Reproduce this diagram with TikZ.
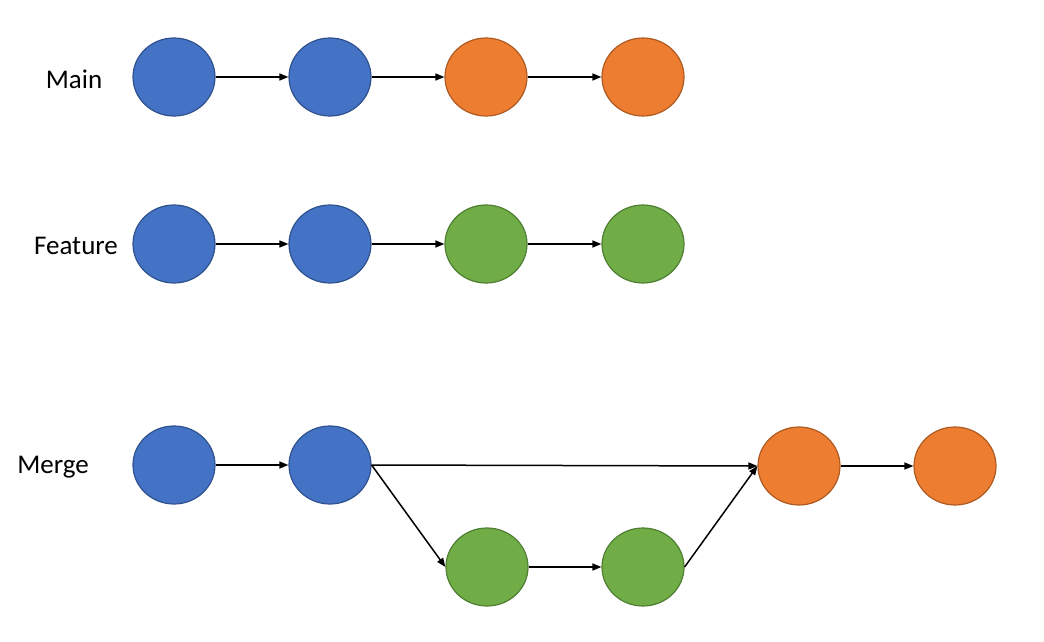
\documentclass[tikz,border=0pt]{standalone}
\usepackage{fontspec}
\setmainfont{Carlito}
\usetikzlibrary{arrows.meta,shapes.geometric}
\definecolor{cblue}{HTML}{4472C4}
\definecolor{cblueb}{HTML}{2F528F}
\definecolor{corange}{HTML}{ED7D31}
\definecolor{coranb}{HTML}{AE5A21}
\definecolor{cgreen}{HTML}{70AD47}
\definecolor{cgreenb}{HTML}{507E32}
\tikzset{
  commit/.style={ellipse, minimum width=82pt, minimum height=78pt, inner sep=0pt, line width=1.2pt},
  bluec/.style={commit, fill=cblue, draw=cblueb},
  orangec/.style={commit, fill=corange, draw=coranb},
  greenc/.style={commit, fill=cgreen, draw=cgreenb},
  conn/.style={line width=1.5pt, -{Triangle[length=9pt,width=7pt]}},
  lbl/.style={font=\fontsize{27}{32}\selectfont, inner sep=0pt}
}
\begin{document}
\begin{tikzpicture}[x=1pt,y=-1pt]
\useasboundingbox (0,0) rectangle (1044,642);
% Main
\node[lbl] (lmain) at (74,79) {Main};
\node[bluec] (m1) at (174,77) {};
\node[bluec] (m2) at (330,77) {};
\node[orangec] (m3) at (486,77) {};
\node[orangec] (m4) at (643,77) {};
\draw[conn] (m1) -- (m2);
\draw[conn] (m2) -- (m3);
\draw[conn] (m3) -- (m4);
% Feature
\node[lbl] (lfeat) at (76,246) {Feature};
\node[bluec] (f1) at (174,244) {};
\node[bluec] (f2) at (330,244) {};
\node[greenc] (f3) at (486,244) {};
\node[greenc] (f4) at (643,244) {};
\draw[conn] (f1) -- (f2);
\draw[conn] (f2) -- (f3);
\draw[conn] (f3) -- (f4);
% Merge
\node[lbl] (lmerge) at (53,467) {Merge};
\node[bluec] (g1) at (174,465) {};
\node[bluec] (g2) at (330,465) {};
\node[greenc] (g3) at (487,567) {};
\node[greenc] (g4) at (643,567) {};
\node[orangec] (g5) at (799,466) {};
\node[orangec] (g6) at (955,466) {};
\draw[conn] (g1) -- (g2);
\draw[conn] (g2.east) -- (g5.west);
\draw[conn] (g2.east) -- (g3.west);
\draw[conn] (g3) -- (g4);
\draw[conn] (g4.east) -- (g5.west);
\draw[conn] (g5) -- (g6);
\end{tikzpicture}
\end{document}
